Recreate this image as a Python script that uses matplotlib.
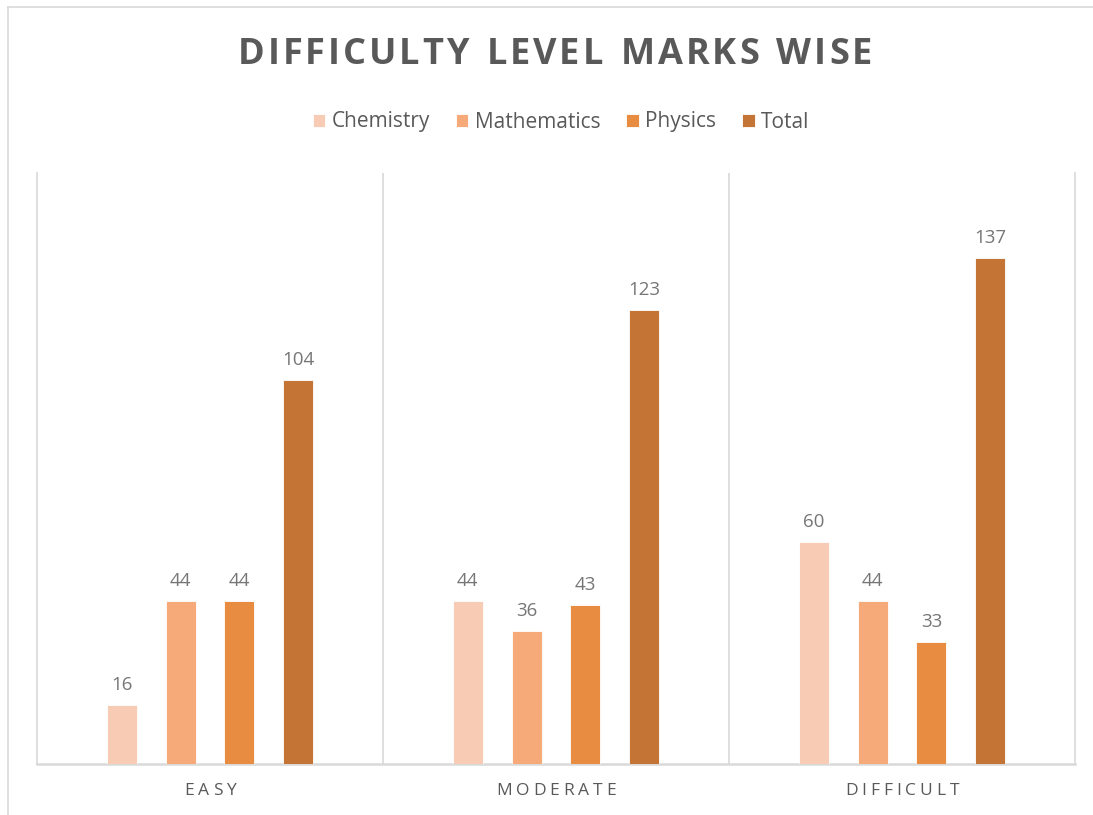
import numpy as np
import matplotlib
matplotlib.use('Agg')
import matplotlib.pyplot as plt
from matplotlib.lines import Line2D

plt.rcParams['font.family'] = ['Open Sans', 'DejaVu Sans']

# data
categories = ['EASY', 'MODERATE', 'DIFFICULT']
series = ['Chemistry', 'Mathematics', 'Physics', 'Total']
chemistry = [16, 44, 60]
mathematics = [44, 36, 44]
physics = [44, 43, 33]
total = [104, 123, 137]
values = [chemistry, mathematics, physics, total]
colors = ['#F8CBB4', '#F6AA7A', '#E88C41', '#C47535']

TEXT = '#595959'
GRID = '#D9D9D9'

W, H = 1093, 815
fig = plt.figure(figsize=(W / 100, H / 100), dpi=100)
ax = fig.add_axes([37 / W, 1 - 764 / H, (1075 - 37) / W, (764 - 173) / H])

x = np.arange(len(categories))
step, width = 0.17, 0.087
for i, (name, vals, c) in enumerate(zip(series, values, colors)):
    bars = ax.bar(x + (i - 1.5) * step, vals, width, color=c, label=name,
                  edgecolor='white', linewidth=0.6, zorder=3)
    ax.bar_label(bars, padding=8, fontsize=13.5, color='#767676')

ax.set_xlim(-0.5, 2.5)
ax.set_ylim(0, 160)
ax.set_yticks([])
ax.set_xticks([])
ax.set_xticks([0.5, 1.5], minor=True)
ax.tick_params(which='both', length=0)
ax.grid(True, which='minor', axis='x', color=GRID, linewidth=1.2, zorder=0)
for s in ['left', 'right']:
    ax.spines[s].set_color(GRID)
    ax.spines[s].set_linewidth(1.2)
ax.spines['bottom'].set_color(GRID)
ax.spines['bottom'].set_linewidth(1.8)
ax.spines['top'].set_visible(False)

fig.canvas.draw()
renderer = fig.canvas.get_renderer()


def spaced_text(s, cx, cy, size, tracking, weight='normal', color=TEXT):
    # draw a string letter by letter so it gets Office-like letter spacing
    widths = []
    for ch in s:
        if ch == ' ':
            t = fig.text(0, 0, 'n', fontsize=size, weight=weight)
            widths.append(t.get_window_extent(renderer).width * 0.5)
        else:
            t = fig.text(0, 0, ch, fontsize=size, weight=weight)
            widths.append(t.get_window_extent(renderer).width)
        t.remove()
    total_w = sum(widths) + tracking * (len(s) - 1)
    px = cx - total_w / 2
    for ch, w in zip(s, widths):
        fig.text(px, H - cy, ch, fontsize=size, weight=weight, color=color,
                 ha='left', va='center', transform=None)
        px += w + tracking


spaced_text('DIFFICULTY LEVEL MARKS WISE', 555, 55, 26, 2.9, weight='bold')
for i, cat in enumerate(categories):
    cx = ax.transData.transform((i, 0))[0]
    spaced_text(cat, cx, 791, 12.5, 3.9)

leg = ax.legend(loc='center', bbox_to_anchor=(561 / W, 1 - 122 / H),
                bbox_transform=fig.transFigure, ncol=4, frameon=False,
                fontsize=15, handlelength=0.6, handleheight=0.6,
                handletextpad=0.3, columnspacing=1.25, labelcolor=TEXT)

# outer chart frame (partly cropped in the reference)
fig.add_artist(Line2D([8, W], [H - 7, H - 7], transform=None, color=GRID, linewidth=1.2))
fig.add_artist(Line2D([8, 8], [H - 7, 0], transform=None, color=GRID, linewidth=1.2))

fig.savefig('out.png', dpi=100)
